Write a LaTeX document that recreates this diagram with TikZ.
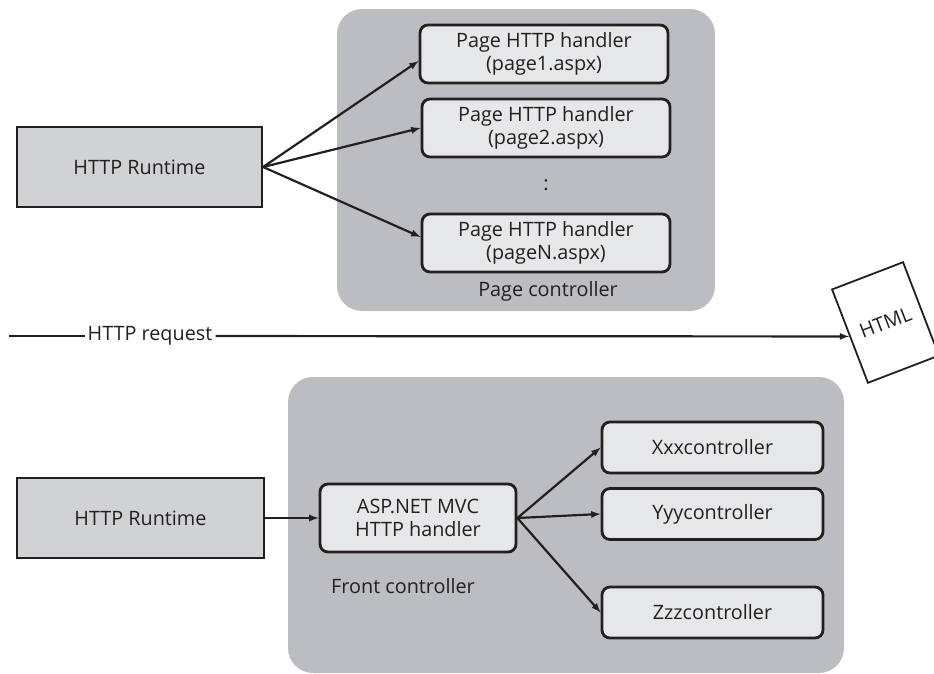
\documentclass[tikz,border=0pt]{standalone}
\usepackage{fontspec}
\setmainfont{Open Sans}
\usepackage{tikz}
\usetikzlibrary{arrows}
\definecolor{areagray}{HTML}{BCBDC0}
\definecolor{boxgray}{HTML}{E6E7E8}
\definecolor{rtgray}{HTML}{D1D2D4}
\definecolor{inkdark}{HTML}{231F20}
\tikzstyle{every node}=[font=\fontsize{19.8}{23.5}\selectfont, text=inkdark, inner sep=2pt]
\tikzset{runtime/.style={draw=inkdark, fill=rtgray, line width=2.2pt},
  handler/.style={draw=inkdark, fill=boxgray, line width=2.8pt, rounded corners=8pt, align=center},
  area/.style={fill=areagray, rounded corners=25pt},
  link/.style={-latex, line width=2.2pt, draw=inkdark}}

\begin{document}
\begin{tikzpicture}[x=1pt,y=-1pt]
		\useasboundingbox (0,0) rectangle (934,673);
		% page controller
		\fill[area] (337,9) rectangle (715,311);
		\node[runtime, minimum width=245pt, minimum height=80pt] (rt1) at (139.5,167) {HTTP Runtime};
		\node[handler, minimum width=248pt, minimum height=58pt] (h1) at (544,54) {Page HTTP handler\\(page1.aspx)};
		\node[handler, minimum width=248pt, minimum height=58pt] (h2) at (546,128) {Page HTTP handler\\(page2.aspx)};
		\node (dots) at (546,185) {:};
		\node[handler, minimum width=248pt, minimum height=58pt] (hN) at (546,243) {Page HTTP handler\\(pageN.aspx)};
		\node (pagectl) at (548,291) {Page controller};
		\draw[link] (rt1.east) -- ([yshift=-7pt]h1.west);
		\draw[link] (rt1.east) -- (h2.west);
		\draw[link] (rt1.east) -- ([yshift=6pt]hN.west);
		% request
		\coordinate (reqstart) at (9,336);
		\node[fill=white, inner sep=3pt] (req) at (150,336) {HTTP request};
		\node[draw=inkdark, fill=white, line width=1.8pt, rotate=21, minimum width=76pt, minimum height=100pt] (html) at (885.5,322.5) {HTML};
		\draw[line width=2.2pt, draw=inkdark] (reqstart) -- (req);
		\draw[link] (req) -- (html.west);
		% front controller
		\fill[area] (288,377) rectangle (844,673);
		\node[runtime, minimum width=247pt, minimum height=80pt] (rt2) at (140.5,518) {HTTP Runtime};
		\node[handler, minimum width=196pt, minimum height=68pt] (mvc) at (418,518) {ASP.NET MVC\\HTTP handler};
		\node[handler, minimum width=221pt, minimum height=51pt] (xxx) at (712.5,447.5) {Xxxcontroller};
		\node[handler, minimum width=221pt, minimum height=51pt] (yyy) at (712.5,514) {Yyycontroller};
		\node[handler, minimum width=221pt, minimum height=51pt] (zzz) at (712.5,612.5) {Zzzcontroller};
		\node (frontctl) at (403,586) {Front controller};
		\draw[link] (rt2.east) -- (mvc.west);
		\draw[link] (mvc.east) -- (xxx.west);
		\draw[link] (mvc.east) -- (yyy.west);
		\draw[link] (mvc.east) -- (zzz.west);
		\end{tikzpicture}
\end{document}
